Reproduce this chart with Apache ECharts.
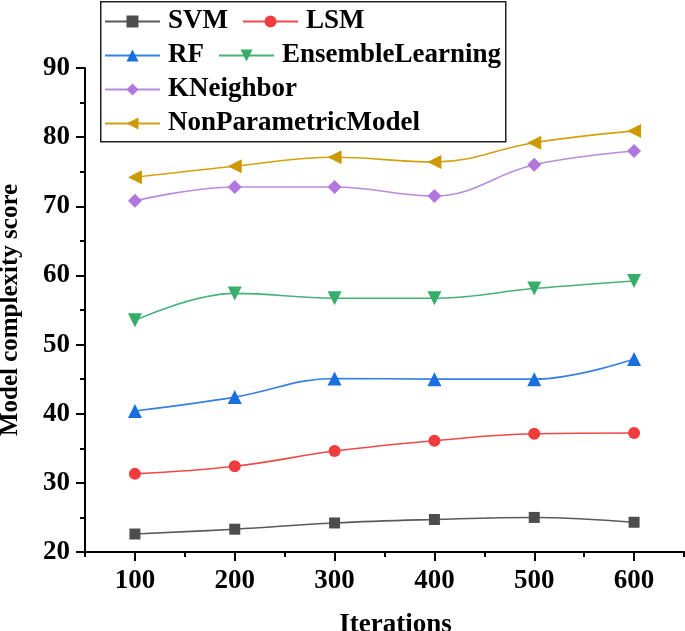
<!DOCTYPE html>
<html>
<head>
<meta charset="utf-8">
<script src="https://cdn.jsdelivr.net/npm/echarts@6/dist/echarts.min.js"></script>
<style>
html,body{margin:0;padding:0;background:#fff;}
#chart{width:685px;height:631px;}
</style>
</head>
<body>
<div id="chart"></div>
<script>
const iterations = [100, 200, 300, 400, 500, 600];
const svm = [22.6, 23.3, 24.2, 24.7, 25.0, 24.3];
const lsm = [31.3, 32.4, 34.6, 36.1, 37.1, 37.2];
const rf = [40.4, 42.4, 45.1, 45.0, 45.0, 47.9];
const ensembleLearning = [53.5, 57.4, 56.7, 56.7, 58.1, 59.2];
const kNeighbor = [70.8, 72.8, 72.8, 71.5, 76.0, 78.0];
const nonParametricModel = [74.2, 75.8, 77.1, 76.4, 79.2, 80.9];
const xTicks = [100, 200, 300, 400, 500, 600];
const yTicks = [20, 30, 40, 50, 60, 70, 80, 90];

const FONT = '"Liberation Serif", "Times New Roman", serif';

function pairs(vals) { return iterations.map((x, i) => [x, vals[i]]); }

const seriesDefs = [
  {name: 'SVM', data: svm, color: '#4d4d4d', line: '#5a5a5a', symbol: 'rect', size: 11, rot: 0},
  {name: 'LSM', data: lsm, color: '#f03c3c', line: '#f04848', symbol: 'circle', size: 12, rot: 0},
  {name: 'RF', data: rf, color: '#1a6fdf', line: '#3580e0', symbol: 'triangle', size: 14, rot: 0},
  {name: 'EnsembleLearning', data: ensembleLearning, color: '#37ad6b', line: '#45b276', symbol: 'triangle', size: 14, rot: 180},
  {name: 'KNeighbor', data: kNeighbor, color: '#b177de', line: '#b98ae0', symbol: 'diamond', size: 14, rot: 0},
  {name: 'NonParametricModel', data: nonParametricModel, color: '#cc9900', line: '#d2a20e', symbol: 'triangle', size: 14, rot: 90}
];

const legendRows = [['SVM', 'LSM'], ['RF', 'EnsembleLearning'], ['KNeighbor'], ['NonParametricModel']];
const legendTops = [8, 42, 76, 110];

const chart = echarts.init(document.getElementById('chart'), null, {renderer: 'canvas'});

const axisLineStyle = {color: '#000', width: 2};
const labelStyle = {color: '#000', fontFamily: FONT, fontWeight: 'bold', fontSize: 27};

const option = {
  backgroundColor: '#fff',
  animation: false,
  grid: {left: 85, right: 1, top: 68, bottom: 79, containLabel: false, outerBoundsMode: 'none'},
  graphic: [{
    type: 'rect', left: 100, top: 1, z: 100,
    shape: {width: 405, height: 140},
    style: {fill: 'rgba(0,0,0,0)', stroke: '#222', lineWidth: 1.5}
  }],
  legend: legendRows.map((row, i) => ({
    data: row,
    left: 104, top: legendTops[i],
    orient: 'horizontal',
    padding: 0,
    itemWidth: 55, itemHeight: 15, itemGap: 14,
    textStyle: {color: '#000', fontFamily: FONT, fontWeight: 'bold', fontSize: 27, padding: [0, 0, 0, 3]}
  })),
  xAxis: [{
    type: 'value', min: 50, max: 650,
    name: 'Iterations', nameLocation: 'middle', nameGap: 60,
    nameTextStyle: {color: '#000', fontFamily: FONT, fontWeight: 'bold', fontSize: 27, padding: [0, 0, 0, 22]},
    axisLine: {show: true, onZero: false, lineStyle: axisLineStyle},
    axisTick: {show: true, inside: false, length: 9, lineStyle: {color: '#000', width: 2}, customValues: xTicks},
    axisLabel: Object.assign({margin: 16, customValues: xTicks}, labelStyle),
    splitLine: {show: false}
  }, {
    type: 'value', min: 50, max: 650, interval: 50, position: 'bottom',
    axisLine: {show: false, onZero: false},
    axisTick: {show: true, inside: false, length: 5, lineStyle: {color: '#000', width: 2}},
    axisLabel: {show: false},
    splitLine: {show: false}
  }],
  yAxis: {
    type: 'value', min: 20, max: 90, interval: 10,
    name: 'Model complexity score', nameLocation: 'middle', nameGap: 62,
    nameTextStyle: {color: '#000', fontFamily: FONT, fontWeight: 'bold', fontSize: 25},
    axisLine: {show: true, onZero: false, lineStyle: axisLineStyle},
    axisTick: {show: true, inside: false, length: 9, lineStyle: {color: '#000', width: 2}},
    minorTick: {show: true, splitNumber: 2, length: 5, lineStyle: {color: '#000', width: 2}},
    axisLabel: Object.assign({margin: 15, formatter: v => yTicks.includes(v) ? String(v) : ''}, labelStyle),
    splitLine: {show: false},
    minorSplitLine: {show: false}
  },
  series: seriesDefs.map(s => ({
    name: s.name, type: 'line', xAxisIndex: 0,
    data: pairs(s.data),
    smooth: 0.4,
    symbol: s.symbol, symbolSize: s.size, symbolRotate: s.rot,
    showAllSymbol: true,
    lineStyle: {color: s.line, width: 1.6},
    itemStyle: {color: s.color, borderWidth: 0},
    color: s.color
  }))
};
chart.setOption(option);
</script>
</body>
</html>
